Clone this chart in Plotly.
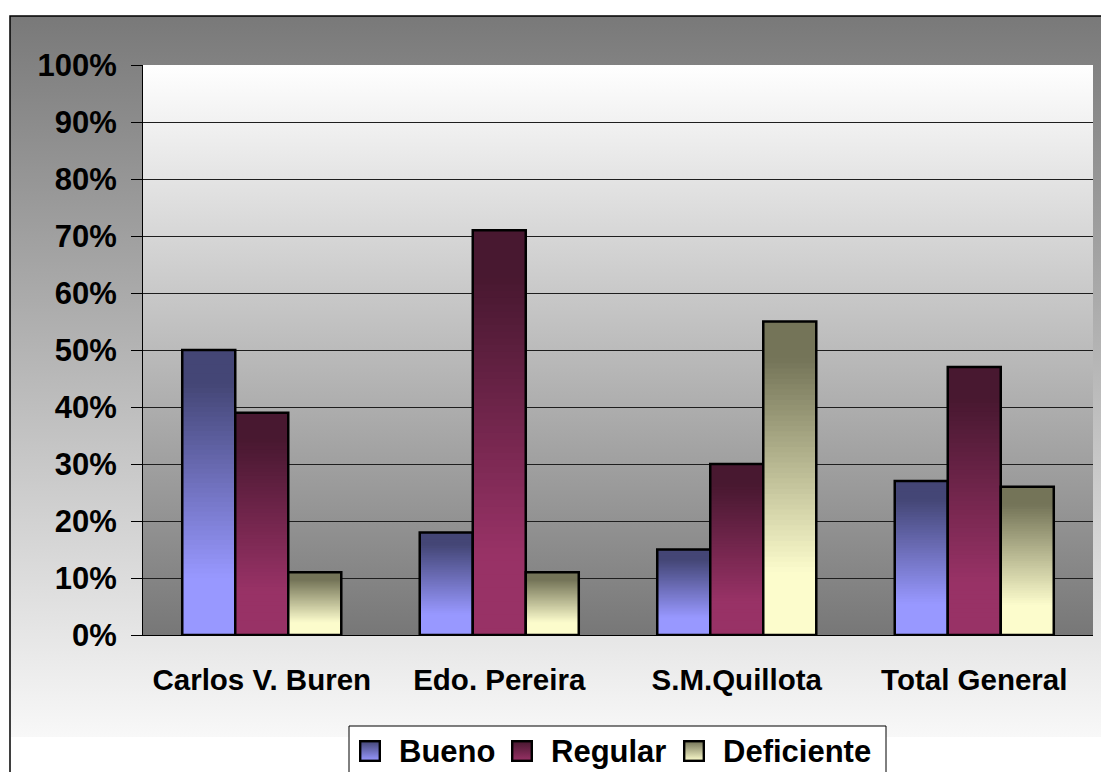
import base64
import plotly.graph_objects as go

# ---- data -------------------------------------------------------------
categories = ["Carlos V. Buren", "Edo. Pereira", "S.M.Quillota", "Total General"]
series_names = ["Bueno", "Regular", "Deficiente"]
bueno = [50, 18, 15, 27]
regular = [39, 71, 30, 47]
deficiente = [11, 11, 55, 26]
y_ticks = [0, 10, 20, 30, 40, 50, 60, 70, 80, 90, 100]

# ---- styling ----------------------------------------------------------
FONT = "Liberation Sans, Arial, sans-serif"
# (dark top colour, light bottom colour) for each series gradient
ramps = [
    ((68, 70, 118), (152, 152, 255)),
    ((72, 24, 48), (152, 50, 102)),
    ((116, 116, 88), (252, 252, 204)),
]
BAR_W = 0.2232
offsets = [-1.5 * BAR_W, -0.5 * BAR_W, 0.5 * BAR_W]
N_LAYERS = 60

W, H = 1101, 772
L, R, T, B = 143, 1093, 65, 635          # plot area in pixels

x_pos = list(range(len(categories)))


def px(X):
    return (X - L) / (R - L)


def py(Y):
    return (B - Y) / (B - T)


def mix(c0, c1, t):
    return "rgb(%d,%d,%d)" % tuple(round(a + (b - a) * t) for a, b in zip(c0, c1))


def ramp(p):
    # keeps the top of the bar dark and the base light, linear in between
    return min(1.0, max(0.0, (p - 0.12) / 0.68))


def svg_uri(svg):
    return "data:image/svg+xml;base64," + base64.b64encode(svg.encode()).decode()


def svg_gradient(top, bottom, stroke=None):
    border = f' stroke="{stroke}" stroke-width="2.4"' if stroke else ""
    x0, size = (1.2, 19.6) if stroke else (0, 22)
    return svg_uri(
        '<svg xmlns="http://www.w3.org/2000/svg" width="22" height="22" viewBox="0 0 22 22" '
        'preserveAspectRatio="none">'
        '<defs><linearGradient id="g" x1="0" y1="0" x2="0" y2="1">'
        f'<stop offset="0" stop-color="{top}"/><stop offset="1" stop-color="{bottom}"/>'
        '</linearGradient></defs>'
        f'<rect x="{x0}" y="{x0}" width="{size}" height="{size}" fill="url(#g)"{border}/></svg>'
    )


fig = go.Figure()

for name, values, (dark, light), off in zip(series_names, [bueno, regular, deficiente], ramps, offsets):
    common = dict(x=x_pos, width=BAR_W, offset=off, hoverinfo="skip", showlegend=False)
    # vertical gradient: stacked layers of decreasing height, darkest first
    for k in range(N_LAYERS):
        frac = 1 - k / N_LAYERS
        p = (k + 0.5) / N_LAYERS
        fig.add_trace(go.Bar(y=[v * frac for v in values], name=name,
                             marker=dict(color=mix(dark, light, ramp(p)), line=dict(width=0)),
                             **common))
    # outline
    fig.add_trace(go.Bar(y=values, name=name,
                         marker=dict(color="rgba(0,0,0,0)", line=dict(color="black", width=2.5)),
                         **common))

# ---- legend (boxed row of gradient swatches + labels) -------------------
legend_swatch_x = [359, 511, 683]
legend_top, swatch_top, swatch_size = 726, 740, 22
images = [
    dict(source=svg_gradient("#797979", "#f8f8f8"), xref="paper", yref="paper",
         x=px(10), y=py(16), sizex=px(1105) - px(10), sizey=py(16) - py(737),
         sizing="stretch", layer="below", xanchor="left", yanchor="top"),
    dict(source=svg_gradient("#ffffff", "#777777"), xref="paper", yref="paper",
         x=0, y=1, sizex=1, sizey=1, sizing="stretch", layer="below",
         xanchor="left", yanchor="top"),
]
annotations = []
for name, (dark, light), sx in zip(series_names, ramps, legend_swatch_x):
    images.append(dict(source=svg_gradient(mix(dark, light, 0.0), mix(dark, light, 1.0), "black"),
                       xref="paper", yref="paper", x=px(sx), y=py(swatch_top),
                       sizex=swatch_size / (R - L), sizey=swatch_size / (B - T),
                       sizing="stretch", layer="above", xanchor="left", yanchor="top"))
    annotations.append(dict(text=name, xref="paper", yref="paper", x=px(sx + 38),
                            y=py(swatch_top + swatch_size / 2), xanchor="left", yanchor="middle",
                            showarrow=False, font=dict(size=31, weight="bold", color="black")))

fig.update_layout(
    width=W,
    height=H,
    margin=dict(l=L, r=W - R, t=T, b=H - B),
    barmode="overlay",
    showlegend=False,
    paper_bgcolor="white",
    plot_bgcolor="rgba(0,0,0,0)",
    font=dict(family=FONT, size=29, color="black", weight="bold"),
    xaxis=dict(
        range=[-0.5, len(categories) - 0.5],
        tickvals=x_pos,
        ticktext=categories,
        ticks="",
        showgrid=False,
        showline=True,
        linecolor="black",
        linewidth=1,
        ticklabelstandoff=19,
        tickfont=dict(size=29.5),
        zeroline=False,
        automargin=False,
    ),
    xaxis2=dict(
        overlaying="x",
        anchor="y",
        side="bottom",
        range=[-0.5, len(categories) - 0.5],
        tickvals=[i - 0.5 for i in range(len(categories) + 1)],
        showticklabels=False,
        ticks="outside",
        ticklen=10,
        tickcolor="black",
        showgrid=True,
        gridcolor="black",
        gridwidth=1,
        zeroline=False,
        automargin=False,
    ),
    yaxis=dict(
        range=[0, 100],
        tickvals=y_ticks,
        ticktext=[f"{v}%" for v in y_ticks],
        ticks="outside",
        ticklen=11,
        tickcolor="black",
        showline=True,
        linecolor="black",
        linewidth=1,
        showgrid=True,
        gridcolor="#1e1e1e",
        gridwidth=1,
        zeroline=False,
        ticklabelstandoff=8,
        tickfont=dict(size=31),
        automargin=False,
    ),
    images=images,
    annotations=annotations,
    shapes=[
        # legend frame
        dict(type="rect", xref="paper", yref="paper", x0=px(349), x1=px(886), y0=py(legend_top),
             y1=py(800), line=dict(color="black", width=1), fillcolor="white", layer="below"),
        # chart frame
        dict(type="rect", xref="paper", yref="paper", x0=px(10), x1=px(1110), y0=py(16), y1=py(800),
             line=dict(color="black", width=1.5), fillcolor="rgba(0,0,0,0)", layer="above"),
    ],
)

fig.write_html("out.html")
